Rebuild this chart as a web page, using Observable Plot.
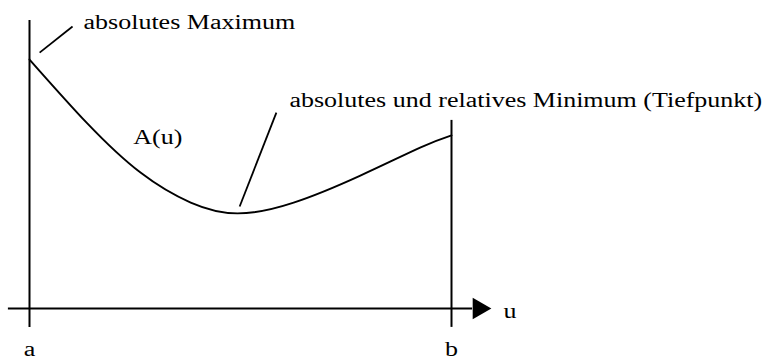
<!DOCTYPE html>
<html>
<head>
<meta charset="utf-8">
<script src="https://cdn.jsdelivr.net/npm/d3@7"></script>
<script src="https://cdn.jsdelivr.net/npm/@observablehq/plot@0.6"></script>
<style>
  html, body { margin: 0; padding: 0; background: #fff; }
</style>
</head>
<body>
<script>
// Curve A(u) on the interval [a, b]
const uValues = [0, 1.37, 2.63, 3.82, 4.93, 6.26, 7.84, 9.27, 10];
const aValues = [8.30, 6.17, 4.53, 3.53, 3.17, 3.53, 4.43, 5.37, 5.77];

// Interval ends a and b and the vertical bounds drawn there
const boundLabels = ["a", "b"];
const boundU = [0, 10];
const boundTop = [9.6, 6.27];
const boundBottom = -0.63;

// Horizontal u-axis extent and arrow head
const axisFrom = -0.5;
const axisTo = 10.5;
const arrowU = 10.65;

// Annotations: label text, anchor, and pointer line ends
const noteTexts = ["absolutes Maximum", "absolutes und relatives Minimum (Tiefpunkt)"];
const noteU = [1.28, 6.16];
const noteA = [9.33, 6.73];
const pointerFrom = [[0.24, 8.53], [4.98, 3.40]];
const pointerTo = [[1.02, 9.40], [5.85, 6.53]];

// Other labels
const curveLabel = {text: "A(u)", u: 2.46, A: 5.47};
const axisLabel = {text: "u", u: 11.23, A: -0.30};
const boundLabelA = -1.57;

const curve = uValues.map((u, i) => ({u, A: aValues[i]}));
const bounds = boundLabels.map((label, i) => ({label, u: boundU[i], top: boundTop[i], bottom: boundBottom, A: boundLabelA}));
const notes = noteTexts.map((text, i) => ({text, u: noteU[i], A: noteA[i]}));
const pointers = pointerFrom.map((f, i) => ({u1: f[0], A1: f[1], u2: pointerTo[i][0], A2: pointerTo[i][1]}));

const serif = "'Liberation Serif', 'Times New Roman', Times, serif";

const chart = Plot.plot({
  width: 776,
  height: 360,
  marginLeft: 29,
  marginRight: 325,
  marginTop: 8,
  marginBottom: 52,
  x: {domain: [0, 10], axis: null},
  y: {domain: [0, 10], axis: null},
  style: {background: "white", color: "black"},
  marks: [
    // u-axis with arrow head
    Plot.ruleY([{A: 0, u1: axisFrom, u2: axisTo}], {y: "A", x1: "u1", x2: "u2", stroke: "black", strokeWidth: 2}),
    Plot.dot([{u: arrowU, A: 0}], {x: "u", y: "A", symbol: "triangle", rotate: 90, r: 8, fill: "black", stroke: "none"}),
    // vertical bounds at a and b
    Plot.ruleX(bounds, {x: "u", y1: "bottom", y2: "top", stroke: "black", strokeWidth: 2}),
    // the function
    Plot.line(curve, {x: "u", y: "A", curve: "natural", stroke: "black", strokeWidth: 1.9}),
    // pointer lines
    Plot.link(pointers, {x1: "u1", y1: "A1", x2: "u2", y2: "A2", stroke: "black", strokeWidth: 1.8}),
    // labels
    Plot.text(notes, {x: "u", y: "A", text: "text", textAnchor: "start", lineAnchor: "bottom", fontSize: 20, fontFamily: serif, fill: "black"}),
    Plot.text([curveLabel, axisLabel], {x: "u", y: "A", text: "text", textAnchor: "start", lineAnchor: "bottom", fontSize: 20, fontFamily: serif, fill: "black"}),
    Plot.text(bounds, {x: "u", y: "A", text: "label", textAnchor: "middle", lineAnchor: "bottom", fontSize: 20, fontFamily: serif, fill: "black"})
  ]
});

document.body.append(chart);

// The lettering is set slightly wide
const stretch = 1.3;
chart.querySelectorAll("text").forEach(t => {
  const w = t.getComputedTextLength();
  if (w > 0) {
    t.setAttribute("textLength", (w * stretch).toFixed(1));
    t.setAttribute("lengthAdjust", "spacingAndGlyphs");
  }
});
</script>
</body>
</html>
